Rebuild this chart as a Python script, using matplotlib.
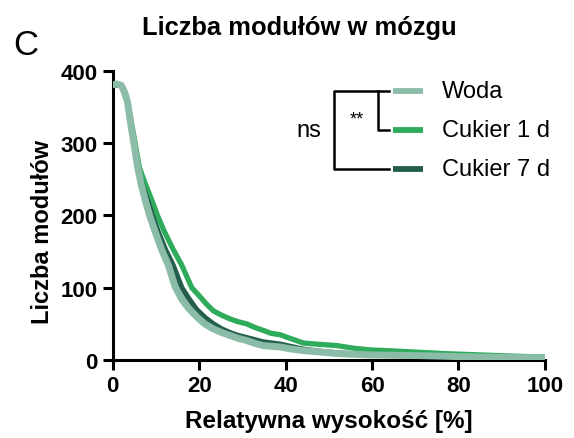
import matplotlib
matplotlib.use("Agg")
import matplotlib.pyplot as plt

plt.rcParams["font.family"] = ["Liberation Sans", "DejaVu Sans"]

# survival-like curves (x = relative height %, y = module count)
woda_x = [0, 1, 2, 2.8, 3.4, 4.1, 4.9, 5.8, 6.6, 7.5, 8.6, 9.8, 11.3, 12.9, 14.4, 16.0, 17.5,
          19.4, 21.3, 23.3, 25.2, 27.1, 29, 31, 32.9, 34.8, 38.7, 41, 44.1, 48, 51.8, 55.5,
          59.5, 65, 71.1, 78, 85, 92, 100]
woda_y = [381, 382, 380, 370, 358, 330, 300, 266, 243, 222, 199, 178, 153, 131, 102, 84, 72,
          60, 50, 43, 38, 34, 30, 27, 23, 20, 18, 15.5, 13, 11, 9, 8,
          7, 6.5, 6, 5, 4, 3.5, 3]

c7_x = [0, 2, 3.4, 4.1, 4.9, 5.9, 7.0, 8.4, 9.4, 10.5, 12.2, 14.0, 16.0, 17.5, 19.4, 21.5,
        23.3, 25.2, 27.1, 29, 31, 32.9, 34.8, 38.7, 41, 44.1, 48, 51.8, 55.5, 59.5, 65,
        71.1, 78, 85, 92, 100]
c7_y = [381, 380, 358, 330, 300, 264, 240, 215, 196, 178, 153, 131, 100, 86, 70, 58,
        50, 43, 38, 34, 31, 28, 25, 22, 19, 15, 12, 10, 8.5, 7, 6.5,
        6, 5, 4, 3.5, 3]

c1_x = [0, 2, 3.4, 4.3, 5.2, 6.2, 7.6, 9.0, 10.5, 12.1, 14.0, 16.0, 18.3, 20.0, 21.6, 23.3,
        25.2, 27.1, 29, 31, 32.9, 34.8, 36.6, 38.7, 41, 44.1, 48, 51.8, 55.5, 59.5, 65,
        71.1, 78, 85, 92, 100]
c1_y = [381, 380, 358, 330, 300, 266, 243, 222, 198, 176, 153, 131, 100, 89, 78, 68,
        62, 57, 53, 50, 45, 41, 37, 35, 30, 23.5, 21.5, 20, 16.5, 14, 12.5,
        10.6, 8.5, 7, 5.5, 4]

labels = ["Woda", "Cukier 1 d", "Cukier 7 d"]
colors = ["#8bbca8", "#2fab5c", "#245e4d"]

x_ticks = [0, 20, 40, 60, 80, 100]
y_ticks = [0, 100, 200, 300, 400]

fig = plt.figure(figsize=(5.74, 4.39), dpi=100)
ax = fig.add_axes([0.1963, 0.1777, 0.7531, 0.6583])

ax.plot(c1_x, c1_y, color=colors[1], linewidth=3.8, solid_joinstyle="round", zorder=3)
ax.plot(c7_x, c7_y, color=colors[2], linewidth=3.8, solid_joinstyle="round", zorder=4)
ax.plot(woda_x, woda_y, color=colors[0], linewidth=5.0, solid_joinstyle="round", zorder=5)

ax.set_xlim(0, 100)
ax.set_ylim(0, 400)
ax.set_xticks(x_ticks)
ax.set_yticks(y_ticks)
for side in ("top", "right"):
    ax.spines[side].set_visible(False)
for side in ("left", "bottom"):
    ax.spines[side].set_linewidth(2.2)
ax.tick_params(width=2.2, length=7, labelsize=16, pad=4)
for lab in ax.get_xticklabels() + ax.get_yticklabels():
    lab.set_fontweight("bold")

ax.set_xlabel("Relatywna wysokość [%]", fontsize=17.5, fontweight="bold", labelpad=9)
ax.set_ylabel("Liczba modułów", fontsize=17, fontweight="bold")
ax.yaxis.set_label_coords(-0.135, 0.445)

fig.text(0.521, 0.920, "Liczba modułów w mózgu", fontsize=18.4, fontweight="bold",
         ha="center", va="baseline")
fig.text(0.023, 0.875, "C", fontsize=25, ha="left", va="baseline")

# legend with significance brackets (data coordinates)
leg_y = [372, 318, 265]
for lab, col, yy in zip(labels, colors, leg_y):
    ax.plot([64.8, 71.8], [yy, yy], color=col, linewidth=4.2, solid_capstyle="butt",
            clip_on=False)
    ax.text(76.1, yy, lab, fontsize=17, ha="left", va="center")

bk = dict(color="black", linewidth=1.8, clip_on=False)
ax.plot([63.9, 51.3, 51.3, 63.9], [leg_y[0], leg_y[0], leg_y[2], leg_y[2]], **bk)
ax.plot([61.4, 61.4, 63.9], [leg_y[0], leg_y[1], leg_y[1]], **bk)
ax.text(56.5, 346, "**", fontsize=13, ha="center", va="top")
ax.text(45.3, 318, "ns", fontsize=17, ha="center", va="center")

fig.savefig("out.png", dpi=100)
